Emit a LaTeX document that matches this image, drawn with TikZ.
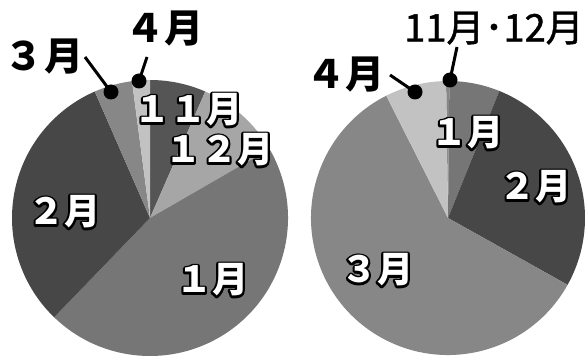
\documentclass[tikz,border=0pt]{standalone}
\usepackage{fontspec}
\newfontfamily\jp{Noto Sans CJK JP}
\newfontfamily\jpm{Noto Sans CJK JP}[FakeBold=1.2]
\definecolor{gA}{HTML}{555555}
\definecolor{gB}{HTML}{A6A6A6}
\definecolor{gC}{HTML}{767676}
\definecolor{gD}{HTML}{474747}
\definecolor{gE}{HTML}{878787}
\definecolor{gF}{HTML}{C2C2C2}
\newcommand{\wl}[1]{\rlap{\special{pdf:literal direct 2 Tr 4.2 w 1 j 0 G 0 g}#1\special{pdf:literal direct 0 Tr}}\textcolor{white}{#1}}
\tikzset{
  blk/.style={inner sep=0pt, font=\jp\fontsize{39}{39}\selectfont\bfseries, text=black},
  wht/.style={inner sep=0pt, font=\jp\fontsize{36}{36}\selectfont\bfseries},
  lead/.style={line width=3pt},
  dotc/.style={circle, fill=black, inner sep=0pt, minimum size=15pt},
}
\newcommand{\slice}[5]{\fill[#5] (#1) -- ++({90-#2}:#4) arc[start angle={90-#2}, end angle={90-#3}, radius=#4] -- cycle;}
\begin{document}
\begin{tikzpicture}[x=1pt,y=1pt]
\useasboundingbox (0,0) rectangle (585,356);
\fill[white] (0,0) rectangle (585,356);
% left pie
\coordinate (L) at (150,138);
\slice{L}{0}{23.6}{138}{gA}
\slice{L}{23.6}{60}{138}{gB}
\slice{L}{60}{224}{138}{gC}
\slice{L}{224}{336.4}{138}{gD}
\slice{L}{336.4}{352.5}{138}{gE}
\slice{L}{352.5}{360}{138}{gF}
% right pie
\coordinate (R) at (448,138);
\slice{R}{-0.8}{0.6}{137}{gE}
\slice{R}{0.6}{22}{137}{gC}
\slice{R}{22}{119.2}{137}{gD}
\slice{R}{119.2}{333.2}{137}{gE}
\slice{R}{333.2}{359.2}{137}{gF}
% left labels
\node[blk] (l4) at (164,327) {４月};
\node[blk] (l3) at (44,299) {３月};
\node[dotc] (d3) at (111,264) {};
\node[dotc] (d4) at (139,275) {};
\coordinate (s3) at (85,299);
\coordinate (s4) at (147,299);
\draw[lead] (s3) -- (d3.center);
\draw[lead] (s4) -- (d4.center);
\node[wht] (l11) at (188,246) {\wl{１１月}};
\node[wht] (l12) at (219,206) {\wl{１２月}};
\node[wht] (l2) at (64,144) {\wl{２月}};
\node[wht] (l1) at (212,76) {\wl{１月}};
% right labels
\node[inner sep=0pt, font=\jpm\fontsize{38}{38}\selectfont] (r1112) at (494,328) {11月･12月};
\node[blk] (r4) at (345,281) {４月};
\node[dotc] (e4) at (415,264) {};
\node[dotc] (e11) at (450,276) {};
\coordinate (t4) at (390,281);
\coordinate (t11) at (457,309);
\draw[lead] (t4) -- (e4.center);
\draw[lead] (t11) -- (e11.center);
\node[wht] (r1) at (467,223) {\wl{１月}};
\node[wht] (r2) at (535,169) {\wl{２月}};
\node[wht] (r3) at (377,86) {\wl{３月}};
\end{tikzpicture}
\end{document}
